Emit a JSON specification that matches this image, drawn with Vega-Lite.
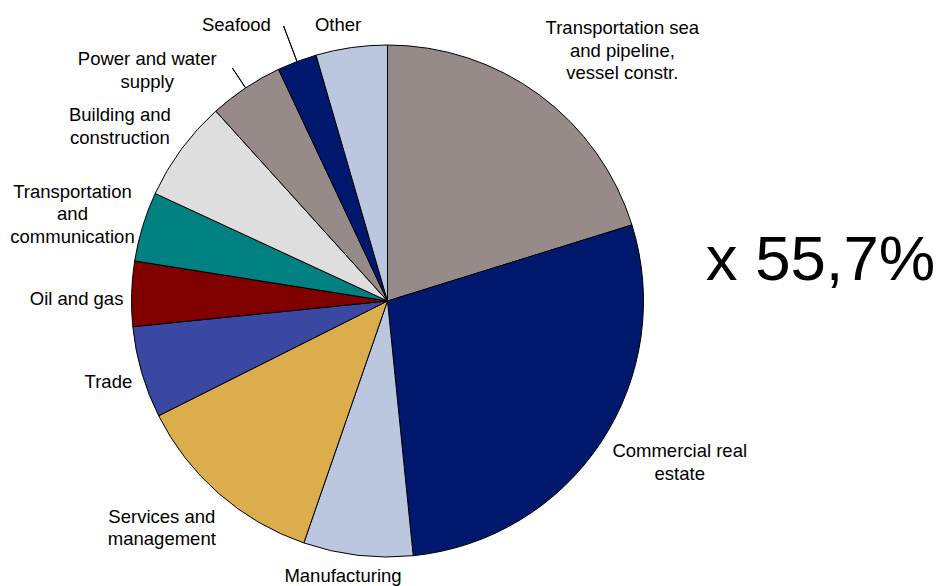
{
  "$schema": "https://vega.github.io/schema/vega-lite/v6.json",
  "width": 775,
  "height": 570,
  "autosize": {"type": "none"},
  "padding": {"left": 0, "top": 16, "right": 163, "bottom": 0},
  "background": "white",
  "config": {"view": {"stroke": null}},
  "data": {
    "values": [
      {"rank": 1, "category": "Transportation sea and pipeline, vessel constr.", "label": "Transportation sea\nand pipeline,\nvessel constr.", "value": 20.2},
      {"rank": 2, "category": "Commercial real estate", "label": "Commercial real\nestate", "value": 28.2},
      {"rank": 3, "category": "Manufacturing", "label": "Manufacturing", "value": 6.9},
      {"rank": 4, "category": "Services and management", "label": "Services and\nmanagement", "value": 12.3},
      {"rank": 5, "category": "Trade", "label": "Trade", "value": 5.8},
      {"rank": 6, "category": "Oil and gas", "label": "Oil and gas", "value": 4.1},
      {"rank": 7, "category": "Transportation and communication", "label": "Transportation\nand\ncommunication", "value": 4.4},
      {"rank": 8, "category": "Building and construction", "label": "Building and\nconstruction", "value": 6.4},
      {"rank": 9, "category": "Power and water supply", "label": "Power and water\nsupply", "value": 4.7},
      {"rank": 10, "category": "Seafood", "label": "Seafood", "value": 2.5},
      {"rank": 11, "category": "Other", "label": "Other", "value": 4.5}
    ]
  },
  "layer": [
    {
      "encoding": {
        "theta": {"field": "value", "type": "quantitative", "stack": true},
        "order": {"field": "rank", "type": "quantitative"},
        "detail": {"field": "category", "type": "nominal"}
      },
      "layer": [
        {
          "mark": {"type": "arc", "radius": 256, "stroke": "black", "strokeWidth": 1},
          "encoding": {
            "color": {
              "field": "category",
              "type": "nominal",
              "legend": null,
              "scale": {
                "domain": ["Transportation sea and pipeline, vessel constr.", "Commercial real estate", "Manufacturing", "Services and management", "Trade", "Oil and gas", "Transportation and communication", "Building and construction", "Power and water supply", "Seafood", "Other"],
                "range": ["#968B88", "#00196E", "#BAC7DE", "#DCAD4D", "#3A48A3", "#800000", "#008080", "#DEDEDE", "#968B88", "#00196E", "#BAC7DE"]
              }
            }
          }
        },
        {
          "mark": {"type": "arc", "filled": false, "radius": 294, "radius2": 256, "padAngle": 0.5, "stroke": "black", "strokeWidth": 1},
          "encoding": {
            "strokeOpacity": {"condition": {"test": "datum.category === 'Seafood'", "value": 1}, "value": 0}
          }
        },
        {
          "mark": {"type": "arc", "filled": false, "radius": 280, "radius2": 256, "padAngle": 0.5, "stroke": "black", "strokeWidth": 1},
          "encoding": {
            "strokeOpacity": {"condition": {"test": "datum.category === 'Power and water supply'", "value": 1}, "value": 0}
          }
        },
        {
          "mark": {"type": "text", "radius": 300, "dx": 57, "dy": -31, "font": "Liberation Sans", "fontSize": 18.5, "lineHeight": 22.5, "lineBreak": "\n", "fill": "black", "align": "center", "baseline": "middle"},
          "encoding": {
            "text": {"condition": {"test": "datum.category === 'Transportation sea and pipeline, vessel constr.'", "field": "label", "type": "nominal"}, "value": ""}
          }
        },
        {
          "mark": {"type": "text", "radius": 300, "dx": 42, "dy": -15, "font": "Liberation Sans", "fontSize": 18.5, "lineHeight": 22.5, "lineBreak": "\n", "fill": "black", "align": "center", "baseline": "middle"},
          "encoding": {
            "text": {"condition": {"test": "datum.category === 'Commercial real estate'", "field": "label", "type": "nominal"}, "value": ""}
          }
        },
        {
          "mark": {"type": "text", "radius": 300, "dx": -28, "dy": -10, "font": "Liberation Sans", "fontSize": 18.5, "lineHeight": 22.5, "lineBreak": "\n", "fill": "black", "align": "center", "baseline": "middle"},
          "encoding": {
            "text": {"condition": {"test": "datum.category === 'Services and management'", "field": "label", "type": "nominal"}, "value": ""}
          }
        },
        {
          "mark": {"type": "text", "radius": 300, "dx": -26, "dy": -8, "font": "Liberation Sans", "fontSize": 18.5, "lineHeight": 22.5, "lineBreak": "\n", "fill": "black", "align": "center", "baseline": "middle"},
          "encoding": {
            "text": {"condition": {"test": "datum.category === 'Building and construction'", "field": "label", "type": "nominal"}, "value": ""}
          }
        },
        {
          "mark": {"type": "text", "radius": 300, "dx": -28, "dy": -22, "font": "Liberation Sans", "fontSize": 18.5, "lineHeight": 22.5, "lineBreak": "\n", "fill": "black", "align": "center", "baseline": "middle"},
          "encoding": {
            "text": {"condition": {"test": "datum.category === 'Transportation and communication'", "field": "label", "type": "nominal"}, "value": ""}
          }
        },
        {
          "mark": {"type": "text", "radius": 300, "dx": 9, "dy": -3, "font": "Liberation Sans", "fontSize": 18.5, "lineHeight": 22.5, "lineBreak": "\n", "fill": "black", "align": "center", "baseline": "middle"},
          "encoding": {
            "text": {"condition": {"test": "datum.category === 'Trade'", "field": "label", "type": "nominal"}, "value": ""}
          }
        },
        {
          "mark": {"type": "text", "radius": 300, "dx": -11, "dy": 6, "font": "Liberation Sans", "fontSize": 18.5, "lineHeight": 22.5, "lineBreak": "\n", "fill": "black", "align": "center", "baseline": "middle"},
          "encoding": {
            "text": {"condition": {"test": "datum.category === 'Oil and gas'", "field": "label", "type": "nominal"}, "value": ""}
          }
        },
        {
          "mark": {"type": "text", "radius": 280, "dx": -12, "dy": -3, "font": "Liberation Sans", "fontSize": 18.5, "lineHeight": 22.5, "lineBreak": "\n", "fill": "black", "align": "center", "baseline": "middle"},
          "encoding": {
            "text": {"condition": {"test": "datum.category === 'Manufacturing'", "field": "label", "type": "nominal"}, "value": ""}
          }
        },
        {
          "mark": {"type": "text", "radius": 280, "dx": -10, "dy": 1, "font": "Liberation Sans", "fontSize": 18.5, "lineHeight": 22.5, "lineBreak": "\n", "fill": "black", "align": "center", "baseline": "middle"},
          "encoding": {
            "text": {"condition": {"test": "datum.category === 'Other'", "field": "label", "type": "nominal"}, "value": ""}
          }
        },
        {
          "mark": {"type": "text", "radius": 300, "dx": -74, "dy": 8, "font": "Liberation Sans", "fontSize": 18.5, "lineHeight": 22.5, "lineBreak": "\n", "fill": "black", "align": "center", "baseline": "middle"},
          "encoding": {
            "text": {"condition": {"test": "datum.category === 'Power and water supply'", "field": "label", "type": "nominal"}, "value": ""}
          }
        },
        {
          "mark": {"type": "text", "radius": 300, "dx": -45, "dy": 5, "font": "Liberation Sans", "fontSize": 18.5, "lineHeight": 22.5, "lineBreak": "\n", "fill": "black", "align": "center", "baseline": "middle"},
          "encoding": {
            "text": {"condition": {"test": "datum.category === 'Seafood'", "field": "label", "type": "nominal"}, "value": ""}
          }
        }
      ]
    },
    {
      "data": {"values": [{"note": "x 55,7%"}]},
      "mark": {"type": "text", "dx": 433, "dy": -21, "font": "Liberation Sans", "fontSize": 63.5, "fill": "black", "align": "center", "baseline": "alphabetic"},
      "encoding": {
        "text": {"field": "note", "type": "nominal"}
      }
    }
  ]
}
